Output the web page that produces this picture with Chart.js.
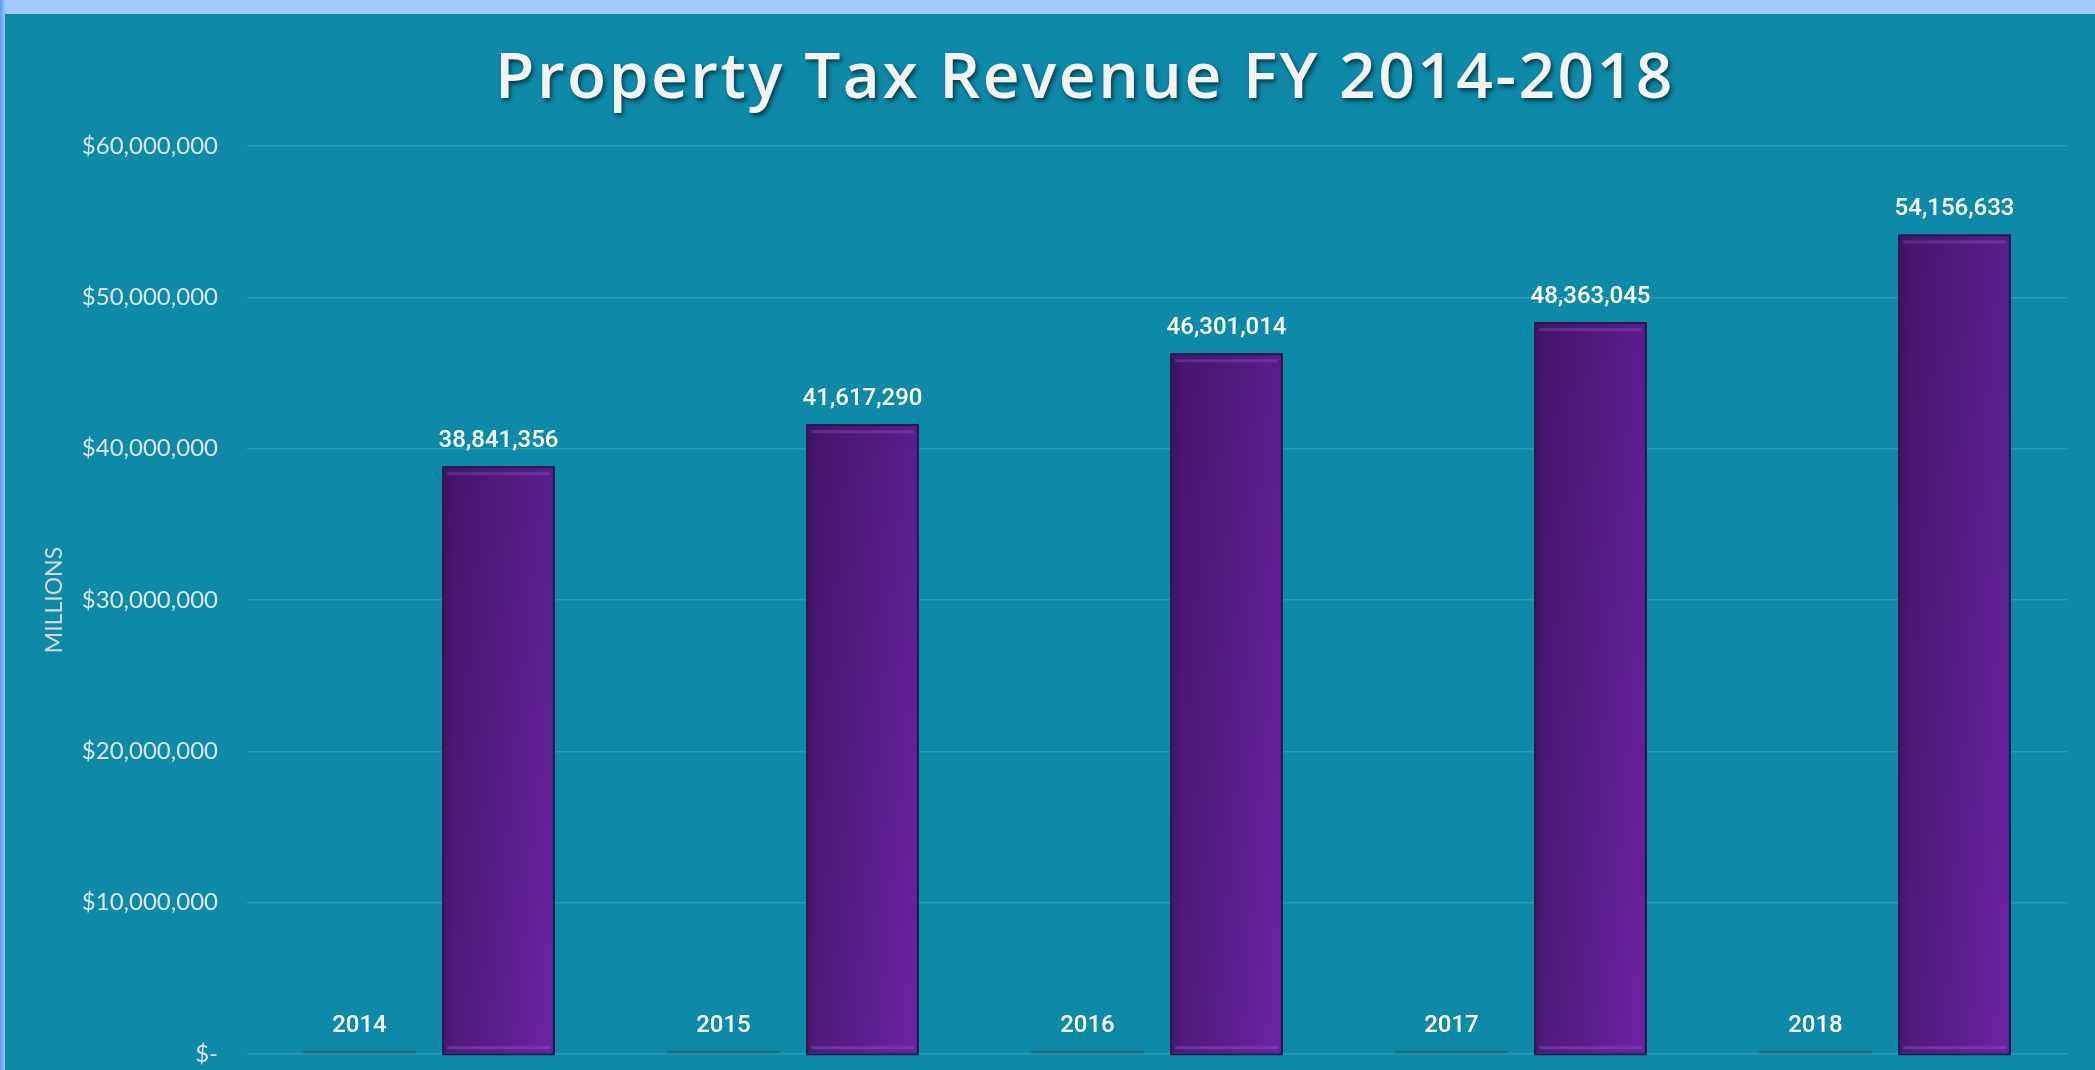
<!DOCTYPE html>
<html>
<head>
<meta charset="utf-8">
<title>Property Tax Revenue FY 2014-2018</title>
<script src="https://cdn.jsdelivr.net/npm/chart.js@4.4.0/dist/chart.umd.min.js"></script>
<style>
  html, body { margin: 0; padding: 0; }
  body {
    width: 2095px; height: 1070px; overflow: hidden; position: relative;
    background: linear-gradient(90deg, #5c9cf4 0px, #a4caf8 6px);
  }
  #panel {
    position: absolute; left: 5px; top: 14px;
    width: 2090px; height: 1056px; background: #0e89a8;
  }
</style>
</head>
<body>
<div id="panel">
  <canvas id="taxChart" width="2090" height="1056"></canvas>
</div>
<script>
// data
const years = ['2014', '2015', '2016', '2017', '2018'];
const yearValues = [2014, 2015, 2016, 2017, 2018];
const revenue = [38841356, 41617290, 46301014, 48363045, 54156633];
const yTickValues = [0, 10000000, 20000000, 30000000, 40000000, 50000000, 60000000];
const yTickLabels = ['$-', '$10,000,000', '$20,000,000', '$30,000,000', '$40,000,000', '$50,000,000', '$60,000,000'];
const chartTitle = 'Property Tax Revenue FY 2014-2018';

// title with a soft drop shadow
const titlePlugin = {
  id: 'titlePlugin',
  afterDraw(chart) {
    const ctx = chart.ctx;
    ctx.save();
    ctx.font = '600 64px "Open Sans"';
    ctx.letterSpacing = '2.5px';
    ctx.textAlign = 'center';
    ctx.textBaseline = 'middle';
    ctx.shadowColor = 'rgba(0,0,0,0.55)';
    ctx.shadowBlur = 4;
    ctx.shadowOffsetX = 2;
    ctx.shadowOffsetY = 3;
    ctx.fillStyle = '#f3f3f3';
    ctx.fillText(chartTitle, 1080, 66);
    ctx.restore();
  }
};

// purple shading, bevel and shadow on the revenue bars
const barShading = {
  id: 'barShading',
  beforeDatasetDraw(chart, args) {
    if (args.index !== 1) return;
    const ctx = chart.ctx;
    ctx.save();
    ctx.shadowColor = 'rgba(0,25,45,0.45)';
    ctx.shadowBlur = 8;
    ctx.shadowOffsetX = 4;
    ctx.shadowOffsetY = 2;
  },
  afterDatasetDraw(chart, args) {
    if (args.index !== 1) return;
    const ctx = chart.ctx;
    ctx.restore();
    ctx.save();
    args.meta.data.forEach(bar => {
      const { x, y, base, width } = bar.getProps(['x', 'y', 'base', 'width'], true);
      const l = x - width / 2 + 2, r = x + width / 2 - 2, t = y + 2, b = base - 1;
      const h = ctx.createLinearGradient(l, 0, r, 0);
      h.addColorStop(0, '#48166f');
      h.addColorStop(0.08, '#4f1a7c');
      h.addColorStop(1, '#6b23a3');
      ctx.fillStyle = h;
      ctx.fillRect(l, t, r - l, b - t);
      const v = ctx.createLinearGradient(0, t, 0, b);
      v.addColorStop(0, 'rgba(30,5,50,0.2)');
      v.addColorStop(1, 'rgba(30,5,50,0)');
      ctx.fillStyle = v;
      ctx.fillRect(l, t, r - l, b - t);
      ctx.fillStyle = 'rgba(150,90,195,0.35)';
      ctx.fillRect(l + 3, t + 4, r - l - 6, 3);
      ctx.fillStyle = 'rgba(150,80,205,0.45)';
      ctx.fillRect(l + 3, b - 6, r - l - 6, 3);
      ctx.strokeStyle = '#2a1750';
      ctx.lineWidth = 2;
      ctx.strokeRect(x - width / 2 + 1, y + 1, width - 2, base - y);
    });
    ctx.restore();
  }
};

// value labels above every bar
const valueLabels = {
  id: 'valueLabels',
  afterDatasetsDraw(chart) {
    const ctx = chart.ctx;
    ctx.save();
    ctx.font = '500 24px Roboto';
    ctx.fillStyle = '#ffffff';
    ctx.textAlign = 'center';
    ctx.textBaseline = 'middle';
    chart.data.datasets.forEach((ds, i) => {
      chart.getDatasetMeta(i).data.forEach((bar, j) => {
        const val = ds.data[j];
        const txt = i === 0 ? String(val) : val.toLocaleString('en-US');
        ctx.fillText(txt, bar.x, bar.y - 25);
      });
    });
    ctx.restore();
  }
};

new Chart(document.getElementById('taxChart'), {
  type: 'bar',
  data: {
    labels: years,
    datasets: [
      {
        label: 'Year',
        data: yearValues,
        backgroundColor: '#1b6a7d',
        borderWidth: 0,
        minBarLength: 3,
        categoryPercentage: 0.764,
        barPercentage: 0.81
      },
      {
        label: 'Revenue',
        data: revenue,
        backgroundColor: '#55208a',
        borderColor: '#2a1750',
        borderWidth: 2,
        categoryPercentage: 0.764,
        barPercentage: 0.81
      }
    ]
  },
  options: {
    responsive: false,
    animation: false,
    layout: { padding: { top: 132, right: 28, bottom: 16, left: 0 } },
    scales: {
      x: {
        display: false,
        grid: { display: false }
      },
      y: {
        min: 0,
        max: 60000000,
        ticks: {
          stepSize: 10000000,
          color: '#dde7eb',
          font: { family: 'Lato', size: 24, weight: 400 },
          padding: 29,
          callback: (v) => yTickLabels[yTickValues.indexOf(v)]
        },
        grid: { color: 'rgba(255,255,255,0.14)', lineWidth: 1.5, drawTicks: false },
        border: { display: false },
        title: {
          display: true,
          text: 'MILLIONS',
          color: '#d4d8da',
          font: { family: 'Lato', size: 23 },
          padding: { top: 36, bottom: 0 }
        },
        afterFit(scale) {
          scale.width = 242;
          scale.paddingTop = 0;
          scale.paddingBottom = 0;
        }
      }
    },
    plugins: {
      legend: { display: false },
      title: { display: false },
      tooltip: { enabled: false }
    }
  },
  plugins: [barShading, valueLabels, titlePlugin]
});
</script>
</body>
</html>
